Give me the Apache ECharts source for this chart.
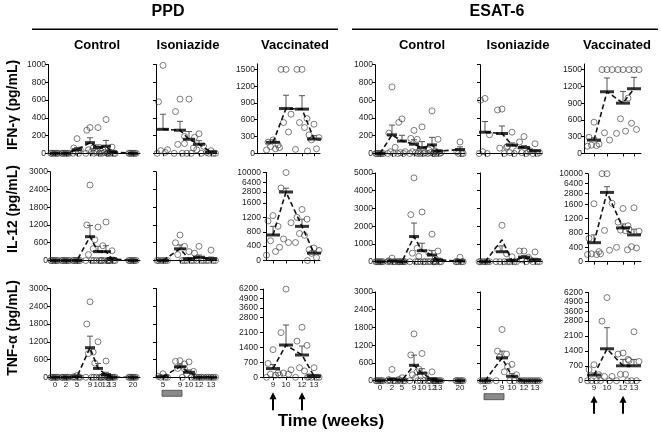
<!DOCTYPE html>
<html><head><meta charset="utf-8">
<script src="https://cdn.jsdelivr.net/npm/echarts@6/dist/echarts.min.js"></script>
<style>html,body{margin:0;padding:0;background:#fff}#c{width:661px;height:433px}</style>
</head><body><div id="c"></div>
<script>
const FONT = '"Liberation Sans", Arial, sans-serif';

// ---- time points (weeks) ----
const weeksCtrl = [0, 2, 5, 9, 10, 12, 13, 20];
const weeksIso = [5, 9, 10, 12, 13];
const weeksVacc = [9, 10, 12, 13];

// ---- PPD : IFN-gamma ----
const ppdCtrlIfnPts = [[0,0,0,0,0,0],[0,0,0,0,0,0],[165,60,40,20,0,0],[290,260,60,40,20,0],[290,30,20,10,0,0],[380,40,20,10,0,0],[70,10,0,0,0,0],[0,0,0,0,0,0]];
const ppdCtrlIfnMean = [0,0,40,120,65,80,15,0];
const ppdCtrlIfnSem = [0,0,25,55,30,65,10,0];
const ppdIsoIfnPts = [[990,580,40,30,10,0],[610,470,190,100,0,0],[610,110,60,0,0],[220,180,80,40,0],[30,10,0,0,0]];
const ppdIsoIfnMean = [270,260,158,102,15];
const ppdIsoIfnSem = [170,100,87,40,8];
const ppdVacIfnPts = [[240,200,150,120,80,60],[1500,1500,700,550,380,100],[1500,1500,620,550,460,70],[520,330,280,240,80,40]];
const ppdVacIfnMean = [196,800,790,255];
const ppdVacIfnSem = [45,238,240,60];

// ---- ESAT-6 : IFN-gamma ----
const esCtrlIfnPts = [[0,0,0,0,0,0],[750,230,70,20,0,0],[390,350,20,10,0,0],[260,170,160,20,10,0],[300,20,10,0,0,0],[480,40,30,10,0,0],[160,20,10,0,0,0],[130,20,0,0,0]];
const esCtrlIfnMean = [0,210,140,105,64,97,26,45];
const esCtrlIfnSem = [5,110,65,50,70,85,15,30];
const esIsoIfnPts = [[620,600,210,20,0,0],[500,490,70,60,0],[240,80,30,10,0],[190,130,20,10,0],[110,30,10,0,0]];
const esIsoIfnMean = [240,225,94,68,30];
const esIsoIfnSem = [120,85,25,20,10];
const esVacIfnPts = [[560,290,170,150,140,130],[1500,1500,1500,370,240],[1500,1500,990,620,400,360],[1500,1500,1500,540,430]];
const esVacIfnMean = [240,1104,900,1158];
const esVacIfnSem = [40,246,210,204];

// ---- PPD : IL-12 ----
const ppdCtrlIl12Pts = [[0,0,0,0,0,0],[0,0,0,0,0,0],[0,0,0,0,0,0],[2550,1200,400,200,0,0],[1130,700,0,0,0,0],[1300,500,0,0,0,0],[330,0,0,0,0,0],[0,0,0,0,0,0]];
const ppdCtrlIl12Mean = [0,0,0,805,300,300,55,0];
const ppdCtrlIl12Sem = [0,0,0,380,180,200,55,0];
const ppdIsoIl12Pts = [[0,0,0,0,0,0],[860,600,480,200,0],[300,0,0,0,0],[480,250,0,0,0],[350,0,0,0,0]];
const ppdIsoIl12Mean = [0,395,50,110,58];
const ppdIsoIl12Sem = [0,130,50,75,58];
const ppdVacIl12Pts = [[1250,1100,950,550,250,150],[10000,4300,1050,600,500,370],[1420,1200,1150,750,700,500],[350,300,280,200,80,0]];
const ppdVacIl12Mean = [710,2800,950,205];
const ppdVacIl12Sem = [240,1400,200,55];

// ---- ESAT-6 : IL-12 ----
const esCtrlIl12Pts = [[0,0,0,0,0,0],[200,50,0,0,0,0],[0,0,0,0,0,0],[4720,2650,760,480,0,0],[2800,300,0,0,0,0],[1550,500,200,0,0,0],[600,0,0,0,0,0],[250,0,0,0,0,0]];
const esCtrlIl12Mean = [0,35,0,1415,620,375,100,40];
const esCtrlIl12Sem = [0,25,0,760,420,250,100,40];
const esIsoIl12Pts = [[0,0,0,0,0,0],[2050,700,450,0,0,0],[280,0,0,0,0],[600,600,250,100,0],[550,100,0,0,0]];
const esIsoIl12Mean = [0,560,60,255,105];
const esIsoIl12Sem = [0,330,45,100,90];
const esIsoIl12Trend = [0,1230,60,250,100];
const esVacIl12Pts = [[1650,650,280,220,200,200],[10000,10000,1700,870,320,220],[1480,1100,1000,880,860,400],[1500,900,850,420,380,330]];
const esVacIl12Mean = [530,3100,940,745];
const esVacIl12Sem = [215,2100,110,160];

// ---- PPD : TNF-alpha ----
const ppdCtrlTnfPts = [[0,0,0,0,0,0],[0,0,0,0,0,0],[60,20,0,0,0,0],[2550,1800,850,800,0,0],[1200,480,0,0,0,0],[550,30,0,0,0,0],[0,0,0,0,0,0],[0,0,0,0,0,0]];
const ppdCtrlTnfMean = [0,0,20,1000,300,90,0,0];
const ppdCtrlTnfSem = [0,0,15,390,170,80,0,0];
const ppdIsoTnfPts = [[120,30,0,0,0],[560,540,450,300,0],[520,280,200,100,0],[0,0,0,0,0],[0,0,0,0,0]];
const ppdIsoTnfMean = [20,355,168,0,0];
const ppdIsoTnfSem = [20,90,80,0,0];
const ppdVacTnfPts = [[1300,650,200,150,100,0],[6200,2100,350,200,150,100],[2350,1700,1500,450,300,0],[450,30,0,0,0,0]];
const ppdVacTnfMean = [410,1517,1048,60];
const ppdVacTnfSem = [190,940,420,60];

// ---- ESAT-6 : TNF-alpha ----
const esCtrlTnfPts = [[0,0,0,0,0,0],[380,40,0,0,0,0],[100,40,0,0,0,0],[1580,870,300,200,100,0],[920,400,200,0,0,0],[300,0,0,0,0,0],[0,0,0,0,0,0],[0,0,0,0,0,0]];
const esCtrlTnfMean = [0,40,20,520,250,50,0,0];
const esCtrlTnfSem = [0,60,15,345,155,50,0,0];
const esIsoTnfPts = [[0,0,0,0,0],[1730,1000,900,800,300,0],[550,480,200,0,0],[0,0,0,0,0],[0,0,0,0,0]];
const esIsoTnfMean = [0,770,150,0,0];
const esIsoTnfSem = [0,230,90,0,0];
const esVacTnfPts = [[750,520,280,0,0,0],[5500,2800,200,200,0,0],[1300,1250,1000,300,300,0],[2300,950,900,0,0,0]];
const esVacTnfMean = [265,1500,700,700];
const esVacTnfSem = [100,990,300,300];

// ---- text ----
const groupTitles = ['PPD', 'ESAT-6'];
const colTitles = ['Control', 'Isoniazide', 'Vaccinated', 'Control', 'Isoniazide', 'Vaccinated'];
const rowTitles = ['IFN-\u03b3 (pg/mL)', 'IL-12 (pg/mL)', 'TNF-\u03b1 (pg/mL)'];
const xTitle = 'Time (weeks)';
const il12Ticks = [0,400,800,1200,1600,2800,6400,10000];
const tnfTicks = [0,700,1400,2100,2800,3600,4900,6200];

// ================= layout =================
const COLS = [
  {x0:48,  slots:[7,18,29,42,50,58,64,85], left:[48,50,50],    right:140, weeks:weeksCtrl, barW:10, spread:3.2},
  {x0:156, slots:[7,24,33,43,55],          left:[156,156,156], right:217, weeks:weeksIso,  barW:12, spread:4.5},
  {x0:257, slots:[16,29,45,57],            left:[257,266,263], right:320, weeks:weeksVacc, barW:14, spread:5},
  {x0:375, slots:[5,17,27,39,47,57,63,85], left:[375,375,375], right:465, weeks:weeksCtrl, barW:10, spread:3.2},
  {x0:480, slots:[5,22,32,44,55],          left:[480,480,480], right:542, weeks:weeksIso,  barW:12, spread:4.5},
  {x0:584, slots:[10,23,39,50],            left:[584,588,588], right:641, weeks:weeksVacc, barW:14, spread:5}
];
const BOTTOMS = {ppd:[153.3,260.5,377.3], esat:[153.5,261.7,380.7]};
const JIT = [0,-1,1,-0.5,0.5,-1.3,1.3,-0.25,0.25];

function makeBreak(lowMax, upMin, upMax, lowPx, gapPx, upPx) {
  const u = lowMax / lowPx;
  const gapD = gapPx * u;
  const k = upPx * u / (upMax - upMin);
  const f = v => v <= lowMax ? v : (v < upMin ? lowMax + (v - lowMax) / (upMin - lowMax) * gapD : lowMax + gapD + (v - upMin) * k);
  return {f, dmax: f(upMax), px: lowPx + gapPx + upPx};
}
const il12Break = makeBreak(1600, 2800, 10000, 57.5, 11, 19.5);
const tnfBreak = makeBreak(2800, 3600, 6200, 59.6, 9.7, 18.9);

const PANELS = [
  [ppdCtrlIfnPts, ppdCtrlIfnMean, ppdCtrlIfnSem], [ppdIsoIfnPts, ppdIsoIfnMean, ppdIsoIfnSem], [ppdVacIfnPts, ppdVacIfnMean, ppdVacIfnSem],
  [esCtrlIfnPts, esCtrlIfnMean, esCtrlIfnSem], [esIsoIfnPts, esIsoIfnMean, esIsoIfnSem], [esVacIfnPts, esVacIfnMean, esVacIfnSem],
  [ppdCtrlIl12Pts, ppdCtrlIl12Mean, ppdCtrlIl12Sem], [ppdIsoIl12Pts, ppdIsoIl12Mean, ppdIsoIl12Sem], [ppdVacIl12Pts, ppdVacIl12Mean, ppdVacIl12Sem],
  [esCtrlIl12Pts, esCtrlIl12Mean, esCtrlIl12Sem], [esIsoIl12Pts, esIsoIl12Mean, esIsoIl12Sem, esIsoIl12Trend], [esVacIl12Pts, esVacIl12Mean, esVacIl12Sem],
  [ppdCtrlTnfPts, ppdCtrlTnfMean, ppdCtrlTnfSem], [ppdIsoTnfPts, ppdIsoTnfMean, ppdIsoTnfSem], [ppdVacTnfPts, ppdVacTnfMean, ppdVacTnfSem],
  [esCtrlTnfPts, esCtrlTnfMean, esCtrlTnfSem], [esIsoTnfPts, esIsoTnfMean, esIsoTnfSem], [esVacTnfPts, esVacTnfMean, esVacTnfSem]
];

const option = {animation:false, grid:[], xAxis:[], yAxis:[], series:[]};
const manualLabels = []; // broken axes: [gridIndex, tick values, transform]

PANELS.forEach((p, gi) => {
  const row = Math.floor(gi / 6), col = gi % 6;
  const [pts, mean, sem, trend] = p;
  const C = COLS[col];
  const type = col % 3;
  const esat = col >= 3;
  const bottom = BOTTOMS[esat ? 'esat' : 'ppd'][row];
  let tf = v => v;
  let height = 88.8;
  const yAxis = {
    type:'value', gridIndex:gi, min:0,
    axisLine:{show:true, lineStyle:{color:'#000', width:1}},
    axisTick:{show:true, length:3, lineStyle:{color:'#000', width:1}},
    axisLabel:{show: type !== 1, fontSize:8.5, color:'#222', fontFamily:FONT, margin:2, hideOverlap:false,
      formatter: v => String(Math.round(v))},
    splitLine:{show:false}
  };
  if (row === 0) {
    if (type === 2) {
      yAxis.max = 1600; height = 89.5;
      const cv = [0,300,600,900,1200,1500];
      yAxis.axisLabel.customValues = cv; yAxis.axisTick.customValues = cv;
    } else { yAxis.max = 1000; yAxis.interval = 200; }
  } else if (row === 1) {
    if (type === 2) {
      tf = il12Break.f; height = il12Break.px; yAxis.max = il12Break.dmax;
      yAxis.axisTick.customValues = il12Ticks.map(tf);
      yAxis.axisLabel.show = false;
      manualLabels.push([gi, il12Ticks, tf]);
    } else if (esat) { yAxis.max = 5000; yAxis.interval = 1000; }
    else { yAxis.max = 3000; yAxis.interval = 600; }
  } else {
    if (type === 2) {
      tf = tnfBreak.f; height = tnfBreak.px; yAxis.max = tnfBreak.dmax;
      yAxis.axisTick.customValues = tnfTicks.map(tf);
      yAxis.axisLabel.show = false;
      manualLabels.push([gi, tnfTicks, tf]);
    } else { yAxis.max = 3000; yAxis.interval = 600; }
  }
  const left = C.left[row];
  option.grid.push({left:left, top:bottom - height, width:C.right - left, height:height, containLabel:false, outerBoundsMode:'none'});
  option.xAxis.push({
    type:'value', gridIndex:gi, min:left - C.x0, max:C.right - C.x0,
    axisLine:{show:true, onZero:false, lineStyle:{color:'#000', width:1}},
    axisTick:{show:true, length:3, customValues:C.slots, lineStyle:{color:'#000'}},
    axisLabel:{show: row === 2, customValues:C.slots, fontSize:8, color:'#222', fontFamily:FONT, margin:3, hideOverlap:false,
      formatter: v => { const i = C.slots.indexOf(v); return i < 0 ? '' : String(C.weeks[i]); }},
    splitLine:{show:false}
  });
  option.yAxis.push(yAxis);

  const ptsData = [];
  pts.forEach((grp, ti) => grp.forEach((v, k) => ptsData.push([C.slots[ti] + JIT[k % JIT.length] * C.spread, tf(v)])));
  option.series.push({type:'scatter', xAxisIndex:gi, yAxisIndex:gi, silent:true, clip:false, z:2,
    symbol:'circle', symbolSize:6,
    itemStyle:{color:'rgba(255,255,255,0)', borderColor:'#333', borderWidth:0.8},
    data:ptsData});

  const errData = [];
  mean.forEach((m, ti) => { if (sem[ti] > 0) errData.push([C.slots[ti], tf(m), tf(m + sem[ti])]); });
  option.series.push({type:'custom', xAxisIndex:gi, yAxisIndex:gi, silent:true, clip:false, z:3,
    encode:{x:0, y:[1,2]},
    renderItem:(params, api) => {
      const a = api.coord([api.value(0), api.value(1)]);
      const b = api.coord([api.value(0), api.value(2)]);
      return {type:'group', children:[
        {type:'line', shape:{x1:a[0], y1:a[1], x2:b[0], y2:b[1]}, style:{stroke:'#555', lineWidth:1}},
        {type:'line', shape:{x1:b[0] - 3, y1:b[1], x2:b[0] + 3, y2:b[1]}, style:{stroke:'#555', lineWidth:1}}
      ]};
    },
    data:errData});

  const lineVals = trend || mean;
  option.series.push({type:'line', xAxisIndex:gi, yAxisIndex:gi, silent:true, z:4, symbol:'none',
    lineStyle:{color:'#111', width:1.6, type:[5,3]},
    data:lineVals.map((m, ti) => [C.slots[ti], tf(m)])});

  option.series.push({type:'scatter', xAxisIndex:gi, yAxisIndex:gi, silent:true, clip:false, z:5,
    symbol:'rect', symbolSize:[C.barW, 3], itemStyle:{color:'#000'},
    data:mean.map((m, ti) => [C.slots[ti], tf(m)])});
});

const chart = echarts.init(document.getElementById('c'), null, {renderer:'canvas'});
chart.setOption(option);

// ---- decorations (titles, rules, arrows, treatment bars, broken-axis labels) ----
const g = [];
const txt = (x, y, text, size, rot) => ({type:'text', x:x, y:y, rotation:rot || 0, z:10,
  style:{text:text, fill:'#000', font:'bold ' + size + 'px ' + FONT, textAlign:'center', textVerticalAlign:'middle', verticalAlign:'middle'}});
g.push(txt(168, 12, groupTitles[0], 16));
g.push(txt(497, 12, groupTitles[1], 16));
g.push({type:'line', shape:{x1:32, y1:29.3, x2:338, y2:29.3}, style:{stroke:'#000', lineWidth:1.5}});
g.push({type:'line', shape:{x1:352, y1:29.3, x2:658, y2:29.3}, style:{stroke:'#000', lineWidth:1.5}});
const colCx = [97, 188, 295, 422, 518, 617];
colTitles.forEach((t, i) => g.push(txt(colCx[i], 45, t, 13)));
const rowCy = [105, 209, 328];
rowTitles.forEach((t, i) => g.push(txt(13, rowCy[i], t, 14, Math.PI / 2)));
g.push(txt(331, 421, xTitle, 17));

manualLabels.forEach(([gi, ticks, tf]) => {
  const xmin = option.xAxis[gi].min;
  ticks.forEach(v => {
    const p = chart.convertToPixel({gridIndex:gi}, [xmin, tf(v)]);
    g.push({type:'text', x:p[0] - 5, y:p[1], z:10,
      style:{text:String(v), fill:'#222', font:'8.5px ' + FONT, textAlign:'right', textVerticalAlign:'middle', verticalAlign:'middle'}});
  });
});

// arrows under vaccinated TNF panels at weeks 9 and 12
[14, 17].forEach(gi => {
  const C = COLS[gi % 6];
  [9, 12].forEach(w => {
    const p = chart.convertToPixel({gridIndex:gi}, [C.slots[C.weeks.indexOf(w)], 0]);
    const yTop = p[1] + 15;
    g.push({type:'polygon', shape:{points:[[p[0], yTop], [p[0] - 3.5, yTop + 7], [p[0] + 3.5, yTop + 7]]}, style:{fill:'#000'}});
    g.push({type:'line', shape:{x1:p[0], y1:yTop + 6, x2:p[0], y2:yTop + 18}, style:{stroke:'#000', lineWidth:2}});
  });
});
// isoniazide treatment bar (weeks 5 to 9)
[13, 16].forEach(gi => {
  const C = COLS[gi % 6];
  const a = chart.convertToPixel({gridIndex:gi}, [C.slots[C.weeks.indexOf(5)], 0]);
  const b = chart.convertToPixel({gridIndex:gi}, [C.slots[C.weeks.indexOf(9)], 0]);
  g.push({type:'rect', shape:{x:a[0] - 1, y:a[1] + 13, width:b[0] - a[0] + 3, height:6}, style:{fill:'#8a8a8a', stroke:'#444', lineWidth:0.8}});
});
chart.setOption({graphic:g});
</script></body></html>
